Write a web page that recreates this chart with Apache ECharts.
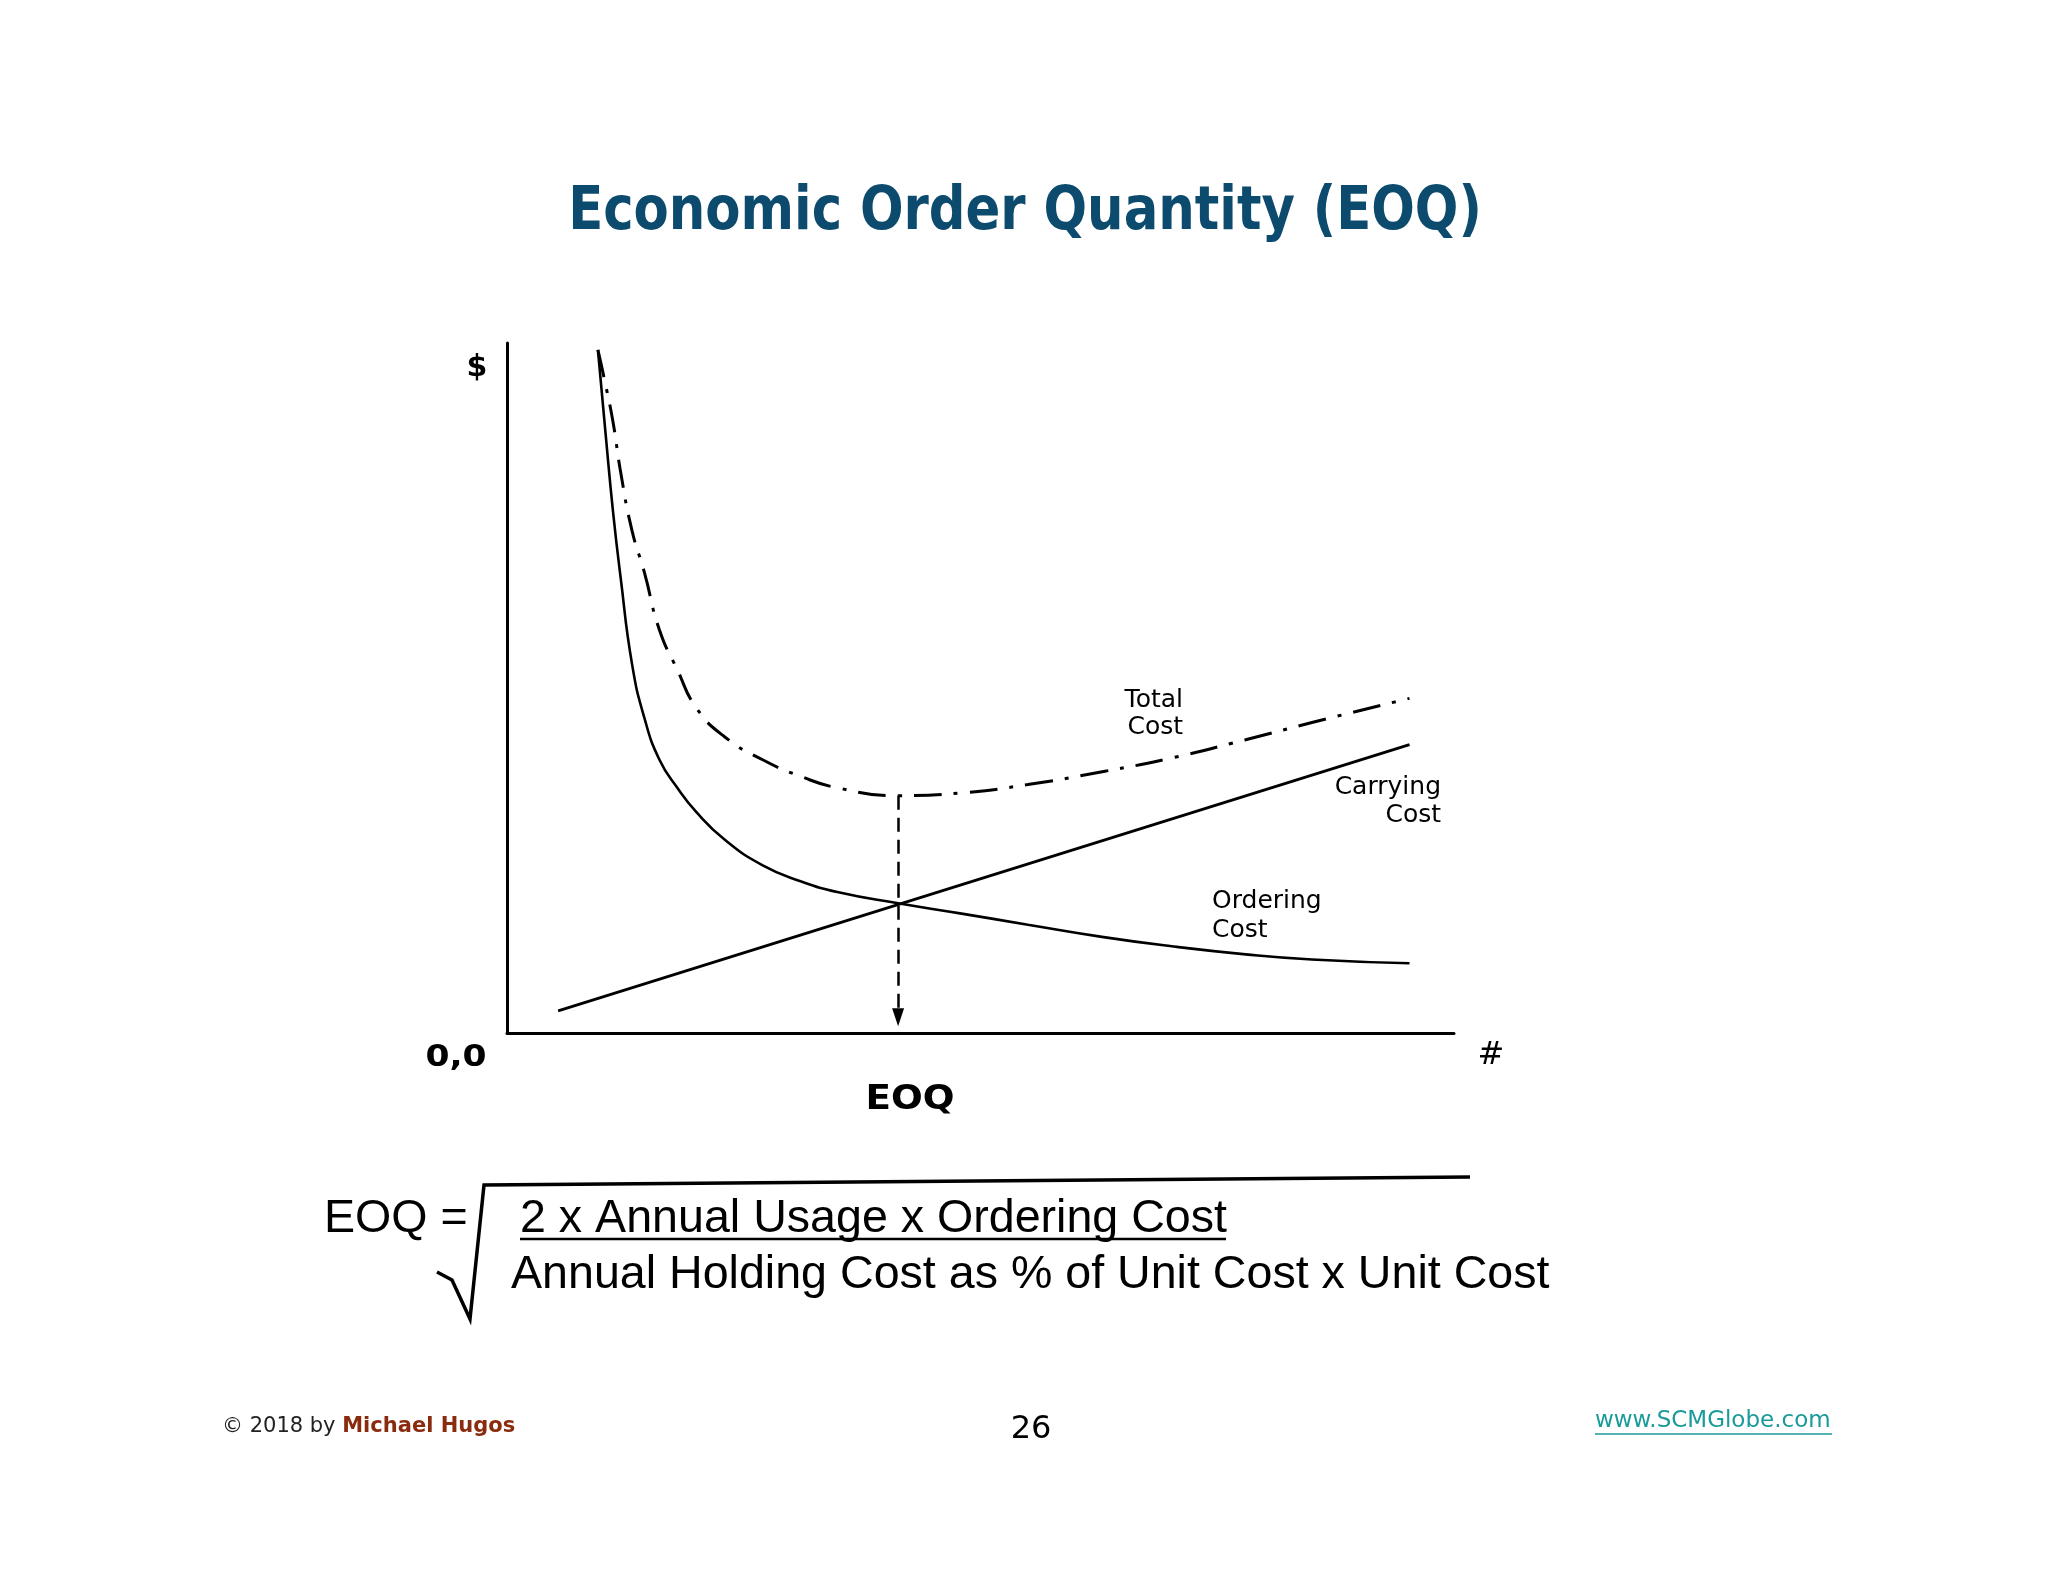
<!DOCTYPE html>
<html>
<head>
<meta charset="utf-8">
<title>Economic Order Quantity (EOQ)</title>
<script src="https://cdn.jsdelivr.net/npm/echarts@6/dist/echarts.min.js"></script>
<style>
  html, body { margin: 0; padding: 0; background: #ffffff; }
  #main { width: 2048px; height: 1582px; }
</style>
</head>
<body>
<div id="main"></div>
<script>
// order quantity (x) and the two cost curves (0..100 scale)
var qty = [9.6, 10.4, 11.2, 12.0, 13.2, 14.5, 16.1, 18.0, 20.0, 23.0, 27.0, 31.0, 35.0, 41.3, 48.0, 55.0, 63.0, 70.0, 78.0, 85.0, 95.3];
var orderingCost = [99, 87, 75.5, 66, 53.5, 45.7, 39.6, 35.5, 32, 28, 24.3, 22, 20.4, 18.8, 17.3, 15.7, 13.9, 12.6, 11.4, 10.65, 10.1];
var totalCost = [99, 94, 88.5, 81.3, 72.8, 66.8, 58.4, 52.6, 47.1, 42.9, 39.6, 37.2, 35.5, 34.4, 34.8, 36.0, 37.9, 39.8, 42.5, 45.0, 48.5];
// carrying cost is a straight line
var carryQty = [5.4, 95.3];
var carryingCost = [3.2, 41.8];
// EOQ point (minimum of total cost) and where the arrow stops
var eoqQty = 41.3;
var eoqCost = 34.4;
var arrowEnd = 2.3;

function pairs(xs, ys) {
    var out = [];
    for (var i = 0; i < xs.length; i++) out.push([xs[i], ys[i]]);
    return out;
}

var myChart = echarts.init(document.getElementById('main'));
var black = '#000';
var txt = function (x, y, text, font, extra) {
    var st = { text: text, font: font, fill: black, align: 'center', verticalAlign: 'middle',
               textAlign: 'center', textVerticalAlign: 'middle' };
    var el = { type: 'text', x: x, y: y, style: st, silent: true };
    if (extra) {
        for (var k in extra) {
            if (k === 'style') { for (var s in extra.style) st[s] = extra.style[s]; }
            else el[k] = extra[k];
        }
    }
    return el;
};
var formulaFont = '46.6px "Liberation Sans", Arial, sans-serif';
var labelFont = '25px "DejaVu Sans", sans-serif';

var option = {
    backgroundColor: '#ffffff',
    animation: false,
    grid: { left: 507, right: 594, top: 343, bottom: 549 },
    xAxis: {
        type: 'value', min: 0, max: 100,
        axisLine: { show: true, lineStyle: { color: black, width: 3 } },
        axisTick: { show: false }, axisLabel: { show: false }, splitLine: { show: false }
    },
    yAxis: {
        type: 'value', min: 0, max: 100,
        axisLine: { show: true, lineStyle: { color: black, width: 3 } },
        axisTick: { show: false }, axisLabel: { show: false }, splitLine: { show: false }
    },
    series: [
        {
            name: 'Ordering Cost', type: 'line',
            data: pairs(qty, orderingCost),
            smooth: 0.5, symbol: 'none',
            lineStyle: { color: black, width: 2.6 }
        },
        {
            name: 'Total Cost', type: 'line',
            data: pairs(qty, totalCost),
            smooth: 0.5, symbol: 'none',
            lineStyle: { color: black, width: 3, type: [28, 12, 4, 12] }
        },
        {
            name: 'Carrying Cost', type: 'line',
            data: pairs(carryQty, carryingCost),
            symbol: 'none',
            lineStyle: { color: black, width: 2.8 },
            markLine: {
                silent: true,
                symbol: ['none', 'triangle'],
                symbolSize: [12, 18],
                label: { show: false },
                lineStyle: { color: black, width: 2.5, type: [14, 8] },
                data: [[{ coord: [eoqQty, eoqCost] }, { coord: [eoqQty, arrowEnd] }]]
            }
        }
    ],
    graphic: [
        // title
        txt(1025, 213, 'Economic Order Quantity (EOQ)', 'bold 60px "DejaVu Sans", sans-serif',
            { scaleX: 0.855, style: { fill: '#0d4b6e' } }),
        // axis labels
        txt(477, 368, '$', 'bold 30px "DejaVu Sans", sans-serif'),
        txt(456, 1058, '0,0', 'bold 30px "DejaVu Sans", sans-serif', { scaleX: 1.15 }),
        txt(1491, 1056, '#', '32px "DejaVu Sans", sans-serif'),
        txt(910, 1100, 'EOQ', 'bold 34px "DejaVu Sans", sans-serif', { scaleX: 1.1 }),
        // curve labels
        txt(1183, 700, 'Total', labelFont, { style: { align: 'right', textAlign: 'right' } }),
        txt(1183, 727, 'Cost', labelFont, { style: { align: 'right', textAlign: 'right' } }),
        txt(1441, 787, 'Carrying', labelFont, { style: { align: 'right', textAlign: 'right' } }),
        txt(1441, 815, 'Cost', labelFont, { style: { align: 'right', textAlign: 'right' } }),
        txt(1212, 901, 'Ordering', labelFont, { style: { align: 'left', textAlign: 'left' } }),
        txt(1212, 930, 'Cost', labelFont, { style: { align: 'left', textAlign: 'left' } }),
        // formula
        txt(324, 1219, 'EOQ =', formulaFont, { style: { align: 'left', textAlign: 'left' } }),
        txt(520, 1219, '2 x Annual Usage x Ordering Cost', formulaFont, { style: { align: 'left', textAlign: 'left' } }),
        { type: 'line', silent: true, shape: { x1: 520, y1: 1239, x2: 1226, y2: 1239 },
          style: { stroke: black, lineWidth: 2.5 } },
        txt(511, 1275, 'Annual Holding Cost as % of Unit Cost x Unit Cost', formulaFont, { style: { align: 'left', textAlign: 'left' } }),
        { type: 'polyline', silent: true,
          shape: { points: [[437, 1272], [452, 1280], [470, 1319], [484, 1185], [1470, 1177]] },
          style: { stroke: black, lineWidth: 3.5, fill: null, lineJoin: 'miter' } },
        // footer
        txt(222, 1427, '\u00a9 2018 by {b|Michael Hugos}', '21px "DejaVu Sans", sans-serif', {
            style: { align: 'left', textAlign: 'left', fill: '#222',
                     rich: { b: { fill: '#8a2b0e', fontWeight: 'bold', fontSize: 21, fontFamily: 'DejaVu Sans' } } }
        }),
        txt(1031, 1430, '26', '32px "DejaVu Sans", sans-serif'),
        txt(1595, 1421, 'www.SCMGlobe.com', '23px "DejaVu Sans", sans-serif',
            { style: { align: 'left', textAlign: 'left', fill: '#1a9a9a' } }),
        { type: 'line', silent: true, shape: { x1: 1595, y1: 1434, x2: 1832, y2: 1434 },
          style: { stroke: '#1a9a9a', lineWidth: 1.5 } }
    ]
};

myChart.setOption(option);
window.addEventListener('resize', function () {
    myChart.resize();
});
</script>
</body>
</html>
